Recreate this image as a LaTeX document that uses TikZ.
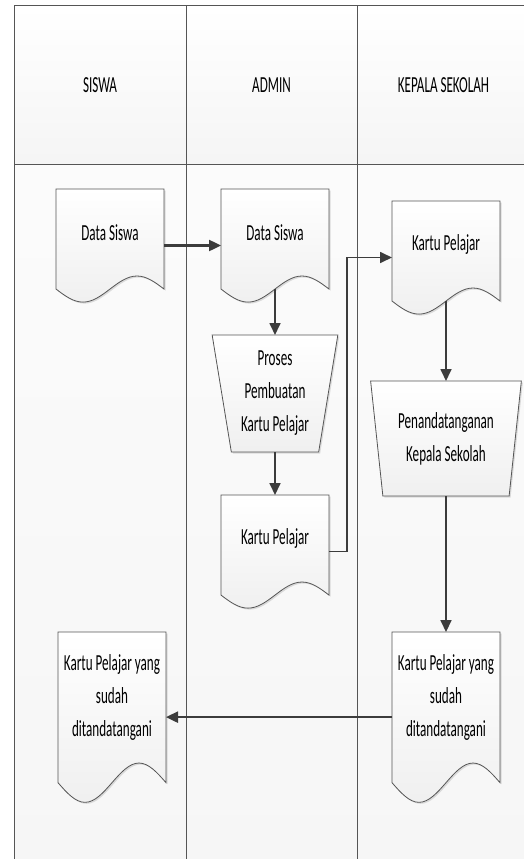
\documentclass[tikz,border=0pt]{standalone}
\usepackage{fontspec}
\setmainfont[FakeStretch=0.57]{Carlito}
\usetikzlibrary{
  arrows.meta,
  calc,
  positioning,
  shapes.geometric,
  shadows,
}
\pgfdeclarelayer{lanes}
\pgfdeclarelayer{shapes}
\pgfsetlayers{lanes,shapes,main}
\definecolor{laneline}{HTML}{555555}
\definecolor{flowline}{HTML}{3C3C3C}
\tikzset{
  x=1pt,
  y=1pt,
  >={Triangle[length=12pt,width=11pt]},
  lane/.style={
    draw=laneline, line width=1pt, minimum height=158,
    inner sep=0pt, outer sep=0pt, top color=white, bottom color=gray!8,
    font=\fontsize{23}{27}\selectfont,
  },
  body/.style={
    draw=laneline, line width=1pt, minimum height=710,
    inner sep=0pt, outer sep=0pt, top color=gray!3, bottom color=gray!7,
  },
  doc/.style={
    minimum width=108, minimum height=87, inner sep=0pt, outer sep=0pt,
    align=center, font=\fontsize{23}{33}\selectfont,
  },
  docline/.style={
    draw=laneline, line width=0.8pt, top color=white, bottom color=gray!12,
    drop shadow={shadow xshift=1.5pt, shadow yshift=-1.5pt,
      opacity=0.25, fill=gray},
  },
  manual/.style={
    trapezium, trapezium angle=80, shape border rotate=180,
    trapezium stretches=true, draw=laneline, line width=0.8pt,
    inner sep=0pt, outer sep=0pt, align=center,
    top color=white, bottom color=gray!12,
    drop shadow={shadow xshift=1.5pt, shadow yshift=-1.5pt,
      opacity=0.25, fill=gray},
    font=\fontsize{23}{33}\selectfont,
  },
  flow/.style={->, draw=flowline, line width=1.7pt},
  wide/.style={line width=2.4pt},
}
% document symbol round a doc node (wave below its south side)
\newcommand\docshape[1]{%
  \path[docline] (#1.north west) -- (#1.north east)
  -- ($(#1.south east)!-0.15!(#1.north east)$)
  sin ($(#1.south west)!0.75!(#1.south east)$)
  cos ($(#1.south)!-0.15!(#1.north)$)
  sin ($($(#1.south west)!0.25!(#1.south east)$)!-0.3!($(#1.north west)!0.25!(#1.north east)$)$)
  cos ($(#1.south west)!-0.15!(#1.north west)$)
  -- cycle;}

\begin{document}
\begin{tikzpicture}[node distance=57pt]
  \useasboundingbox (0,0) rectangle (524,-859);
  %% lanes
  \begin{pgfonlayer}{lanes}
    \node[lane, minimum width=172] (hSiswa) at (100,-85) {SISWA};
    \node[lane, right=0pt of hSiswa, minimum width=171] (hAdmin) {ADMIN};
    \node[lane, right=0pt of hAdmin, minimum width=173] (hKepala)
    {KEPALA SEKOLAH};
    \node[body, below=0pt of hSiswa, minimum width=172] (bSiswa) {};
    \node[body, below=0pt of hAdmin, minimum width=171] (bAdmin) {};
    \node[body, below=0pt of hKepala, minimum width=173] (bKepala) {};
  \end{pgfonlayer}
  %%
  \node[doc] (dsSiswa) at (110,-232.5) {Data Siswa};
  \node[doc, right=of dsSiswa] (dsAdmin) {Data Siswa};
  \node[manual, below=59pt of dsAdmin, minimum width=126,
  minimum height=117] (proses) {Proses\\Pembuatan\\Kartu Pelajar};
  \node[doc, below=43pt of proses] (kpAdmin) {Kartu Pelajar};
  \node[doc] (kpKepala) at (446,-244.5) {Kartu Pelajar};
  \node[manual, below=93pt of kpKepala, minimum width=151,
  minimum height=115] (ttd) {Penandatanganan\\Kepala Sekolah};
  \node[doc, below=136pt of ttd, minimum height=131] (ktKepala)
  {Kartu Pelajar yang\\sudah\\ditandatangani};
  \node[doc, left=226pt of ktKepala, minimum height=131] (ktSiswa)
  {Kartu Pelajar yang\\sudah\\ditandatangani};
  %%
  \begin{pgfonlayer}{shapes}
    \foreach \d in {dsSiswa,dsAdmin,kpAdmin,kpKepala,ktKepala,ktSiswa}
    {\docshape{\d}}
  \end{pgfonlayer}
  %%
  \draw[flow, wide] ([yshift=-13pt]dsSiswa.east)
  -- ([yshift=-13pt]dsAdmin.west);
  \draw[flow] ($(dsAdmin.south)!-0.15!(dsAdmin.north)$) -- (proses.north);
  \draw[flow] (proses.south) -- (kpAdmin.north);
  \draw[flow] ([yshift=-13pt]kpAdmin.east) -- ++(18,0)
  |- ([yshift=-13pt]kpKepala.west);
  \draw[flow] ($(kpKepala.south)!-0.15!(kpKepala.north)$) -- (ttd.north);
  \draw[flow] (ttd.south) -- (ktKepala.north);
  \draw[flow, wide] ([yshift=-19.6pt]ktKepala.west)
  -- ([yshift=-19.6pt]ktSiswa.east);
\end{tikzpicture}
\end{document}
